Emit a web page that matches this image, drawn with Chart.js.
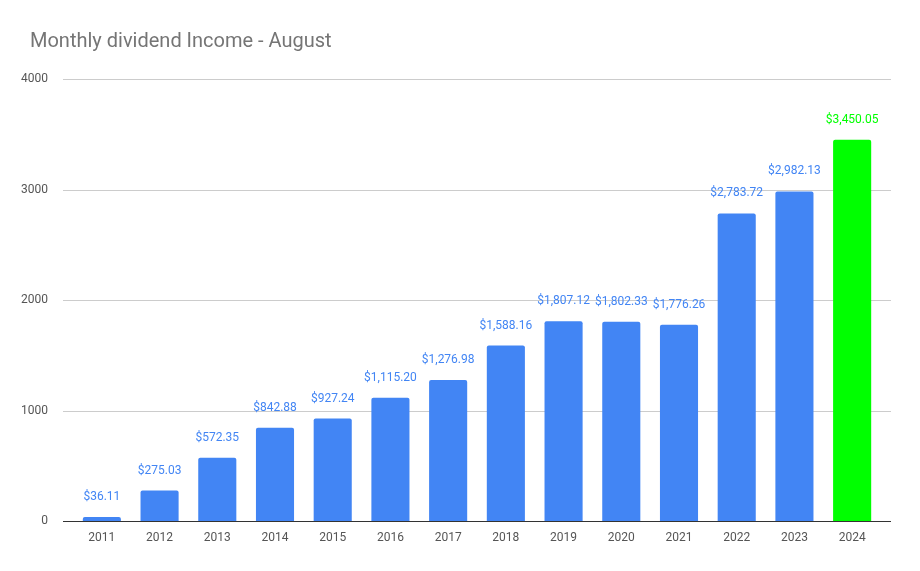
<!DOCTYPE html>
<html>
<head>
<meta charset="utf-8">
<script src="https://cdn.jsdelivr.net/npm/chart.js@4"></script>
<style>
html,body{margin:0;padding:0;background:#fff;}
#wrap{width:920px;height:571px;position:relative;}
</style>
</head>
<body>
<div id="wrap"><canvas id="c" width="920" height="571"></canvas></div>
<script>
const titleText = "Monthly dividend Income - August";
const categories = ["2011","2012","2013","2014","2015","2016","2017","2018","2019","2020","2021","2022","2023","2024"];
const values = [36.11, 275.03, 572.35, 842.88, 927.24, 1115.20, 1276.98, 1588.16, 1807.12, 1802.33, 1776.26, 2783.72, 2982.13, 3450.05];
const yTicks = [0, 1000, 2000, 3000, 4000];
const blue = "#4285F4";
const green = "#00FF00";
const barColors = categories.map((c, i) => i === categories.length - 1 ? green : blue);

const fmt = v => "$" + v.toLocaleString("en-US", {minimumFractionDigits: 2, maximumFractionDigits: 2});

const GRID_EXT = 10;

const labelPlugin = {
  id: "labels",
  beforeDatasetsDraw(chart) {
    const ctx = chart.ctx;
    const y = chart.scales.y;
    const a = chart.chartArea;
    ctx.save();
    ctx.lineWidth = 1;
    yTicks.forEach(v => {
      const py = Math.round(y.getPixelForValue(v)) + 0.5;
      ctx.strokeStyle = v === 0 ? "#333333" : "#cccccc";
      ctx.beginPath();
      ctx.moveTo(a.left - GRID_EXT, py);
      ctx.lineTo(a.right + GRID_EXT, py);
      ctx.stroke();
    });
    ctx.restore();
  },
  afterDatasetsDraw(chart) {
    const ctx = chart.ctx;
    const meta = chart.getDatasetMeta(0);
    const y = chart.scales.y;
    const a = chart.chartArea;
    ctx.save();
    // redraw baseline over bars
    const py = Math.round(y.getPixelForValue(0)) + 0.5;
    ctx.strokeStyle = "#333333";
    ctx.lineWidth = 1;
    ctx.beginPath();
    ctx.moveTo(a.left - GRID_EXT, py);
    ctx.lineTo(a.right + GRID_EXT, py);
    ctx.stroke();
    ctx.font = "12px Roboto";
    ctx.textAlign = "center";
    ctx.textBaseline = "middle";
    meta.data.forEach((bar, i) => {
      ctx.fillStyle = barColors[i];
      ctx.fillText(fmt(values[i]), bar.x, bar.y - 20);
    });
    ctx.restore();
  },
  afterDraw(chart) {
    const ctx = chart.ctx;
    ctx.save();
    ctx.font = "20px Roboto";
    ctx.fillStyle = "#757575";
    ctx.textAlign = "left";
    ctx.textBaseline = "middle";
    ctx.fillText(titleText, 30, 42);
    ctx.restore();
  }
};

new Chart(document.getElementById("c"), {
  type: "bar",
  data: {
    labels: categories,
    datasets: [{
      data: values,
      backgroundColor: barColors,
      borderRadius: {topLeft: 2, topRight: 2},
      borderSkipped: "bottom",
      barPercentage: 0.66,
      categoryPercentage: 1.0
    }]
  },
  options: {
    responsive: false,
    animation: false,
    devicePixelRatio: 1,
    layout: {padding: {top: 79, right: 39, bottom: 0, left: 0}},
    plugins: {legend: {display: false}, title: {display: false}, tooltip: {enabled: false}},
    scales: {
      x: {
        grid: {display: false},
        border: {display: false},
        ticks: {color: "#555555", font: {family: "Roboto", size: 12}, padding: 2, maxRotation: 0},
        afterFit(s) { s.height = 50; }
      },
      y: {
        min: 0, max: 4000,
        afterBuildTicks(s) { s.ticks = yTicks.map(v => ({value: v})); },
        grid: {display: false},
        border: {display: false},
        ticks: {color: "#555555", font: {family: "Roboto", size: 12}, padding: 17, callback: v => String(v)},
        afterFit(s) { s.width = 73; }
      }
    }
  },
  plugins: [labelPlugin]
});
</script>
</body>
</html>
